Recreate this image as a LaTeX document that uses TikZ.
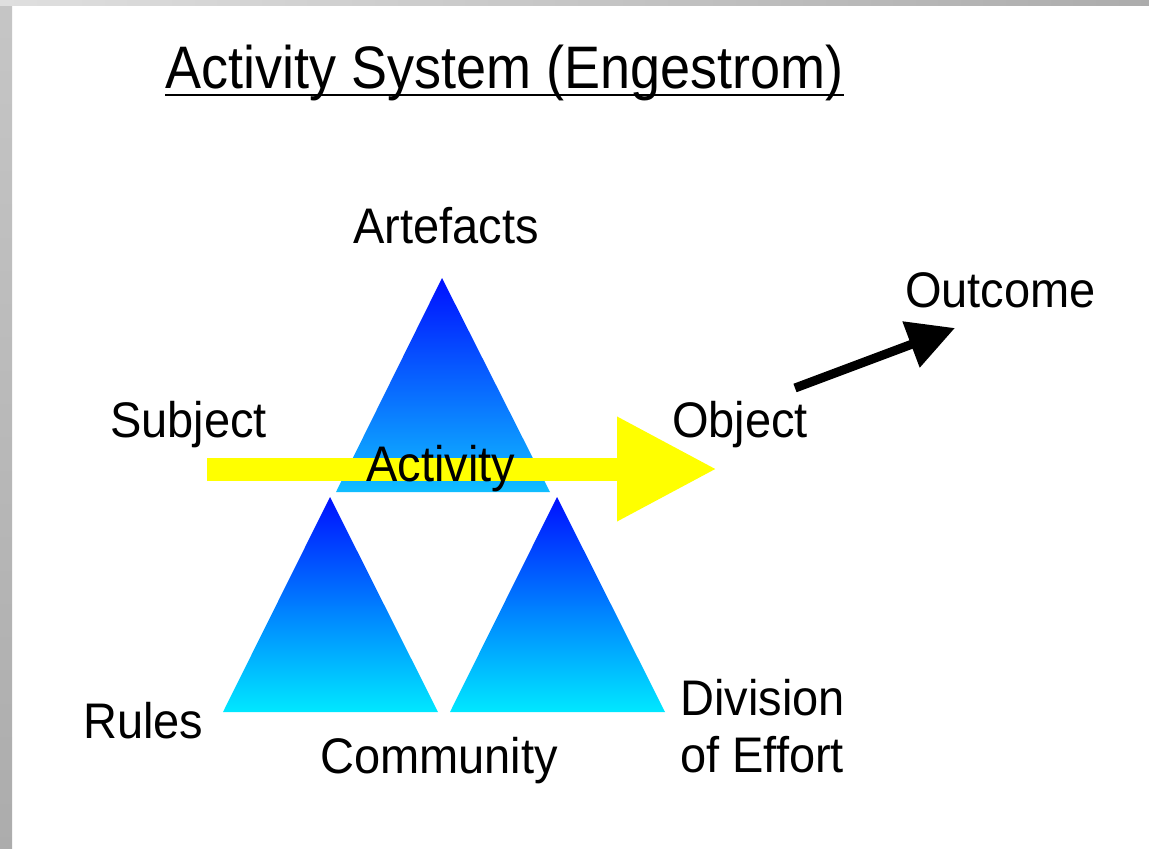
\documentclass[tikz,border=0pt]{standalone}
\usepackage{fontspec}
\newfontfamily\diagfont{Liberation Sans}[FakeStretch=0.94]
\newfontfamily\titlefont{Liberation Sans}[FakeStretch=0.9]
\usetikzlibrary{arrows.meta}
\definecolor{triTop}{RGB}{0,16,255}
\definecolor{triBase}{RGB}{0,232,255}
\definecolor{triMid}{RGB}{16,190,255}
\definecolor{actYellow}{RGB}{255,255,0}

\begin{document}
\begin{tikzpicture}[x=1pt, y=-1pt,
    lbl/.style={inner sep=0pt, anchor=base west, font=\diagfont\fontsize{50}{60}\selectfont},
    tri/.style={top color=triTop, bottom color=triBase}]
    % frame
    \useasboundingbox (0,0) rectangle (1149,849);
    \fill[white] (0,0) rectangle (1149,849);
    \shade[top color=gray!45, bottom color=gray!65] (0,0) rectangle (12,849);
    \shade[left color=gray!25, right color=gray!65] (0,0) rectangle (1149,5);

    % title
    \node[lbl, font=\titlefont\fontsize{60}{72}\selectfont] (title) at (165,88) {Activity System (Engestrom)};
    \draw[line width=2pt] ([yshift=-7pt]title.base west) -- ([yshift=-7pt]title.base east);

    % triangles
    \shade[tri, bottom color=triMid] (442,278) -- (550,492) -- (336,492) -- cycle;
    \shade[tri] (330,497) -- (438,712) -- (223,712) -- cycle;
    \shade[tri] (557,497) -- (665,712) -- (450,712) -- cycle;

    % activity arrow
    \coordinate (actstart) at (207,469);
    \coordinate (acttip) at (717,469);
    \draw[actYellow, line width=23pt, -{Triangle[length=100pt, width=98pt]}] (actstart) -- (acttip);
    \node[lbl] (activity) at (366,481) {Activity};

    % labels
    \node[lbl] (artefacts) at (353,243) {Artefacts};
    \node[lbl] (subject) at (110,437) {Subject};
    \node[lbl] (object) at (672,437) {Object};
    \node[lbl] (outcome) at (905,307) {Outcome};
    \node[lbl] (rules) at (83,738) {Rules};
    \node[lbl] (community) at (320,773) {Community};
    \node[lbl] (division) at (680,715) {Division};
    \node[lbl] (effort) at (680,772) {of Effort};

    % outcome arrow
    \coordinate (outstart) at (795,388);
    \coordinate (outtip) at (955,328);
    \draw[line width=9pt, -{Triangle[length=47pt, width=47pt]}] (outstart) -- (outtip);
\end{tikzpicture}
\end{document}
